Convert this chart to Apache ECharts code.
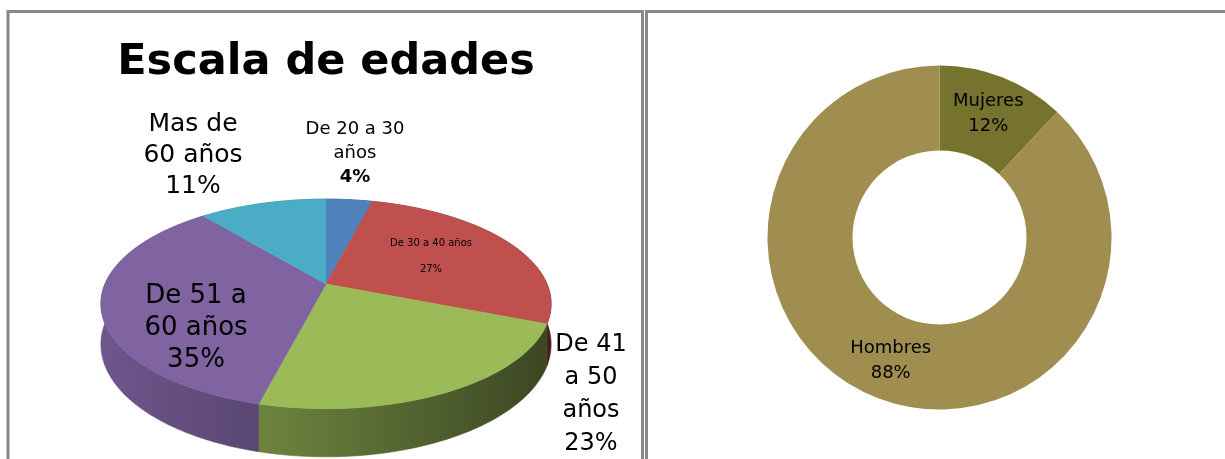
<!DOCTYPE html>
<html><head><meta charset="utf-8">
<script src="https://cdn.jsdelivr.net/npm/echarts@6/dist/echarts.min.js"></script>
<style>html,body{margin:0;padding:0;background:#fff}#c{width:1225px;height:459px}</style>
</head><body><div id="c"></div>
<script>
// ---------------- data ----------------
const titleText = 'Escala de edades';
const ageCategories = ['De 20 a 30 años', 'De 30 a 40 años', 'De 41 a 50 años', 'De 51 a 60 años', 'Mas de 60 años'];
const ageValues = [4, 27, 23, 35, 11];
// label text as wrapped in the original
const ageLabelLines = [['De 20 a 30', 'años'], ['De 30 a 40 años'], ['De 41', 'a 50', 'años'], ['De 51 a', '60 años'], ['Mas de', '60 años']];
const genderCategories = ['Mujeres', 'Hombres'];
const genderValues = [12, 88];

// ---------------- layout / style ----------------
const FONT = 'DejaVu Sans';
const ageColors = ['#4F81BD', '#C0504D', '#9BBB59', '#8064A2', '#4BACC6'];
const genderColors = ['#76732E', '#A08D50'];
const PIE = { cx: 326, cy: 284, A: 221, B: 101, k: 0.19, H: 39 };
const ageLabelLayout = [
  { x: 355, y: 153, size: 18, lh: 24, boldPct: true },
  { x: 431, y: 256, size: 10, lh: 26, boldPct: false },
  { x: 591, y: 394, size: 24, lh: 33, boldPct: false },
  { x: 196, y: 328, size: 26, lh: 32, boldPct: false },
  { x: 193, y: 155, size: 25, lh: 31, boldPct: false }
];

function shade(hex, f) {
  const n = parseInt(hex.slice(1), 16);
  const r = Math.round(((n >> 16) & 255) * f), g = Math.round(((n >> 8) & 255) * f), b = Math.round((n & 255) * f);
  return 'rgb(' + r + ',' + g + ',' + b + ')';
}
function proj(theta, drop) {
  const u = Math.sin(theta), v = -Math.cos(theta);
  const d = 1 - PIE.k * v;
  return [PIE.cx + PIE.A * u / d, PIE.cy + (PIE.B * v + (drop || 0)) / d];
}
const total = ageValues.reduce((a, b) => a + b, 0);
const cum = [];
ageValues.reduce((acc, v, i) => { cum[i] = acc; return acc + v; }, 0);

function renderSlice(params, api) {
  const i = params.dataIndex;
  const val = api.value(1);
  const a1 = cum[i] / total * Math.PI * 2;
  const a2 = (cum[i] + val) / total * Math.PI * 2;
  const steps = Math.max(2, Math.ceil((a2 - a1) / (Math.PI / 180)));
  const top = [[PIE.cx, PIE.cy]];
  const arcTop = [], arcBot = [];
  for (let s = 0; s <= steps; s++) {
    const t = a1 + (a2 - a1) * s / steps;
    arcTop.push(proj(t, 0));
    arcBot.push(proj(t, PIE.H));
  }
  const topPts = top.concat(arcTop);
  const sidePts = arcTop.concat(arcBot.slice().reverse());
  const base = ageColors[i];
  const grad = new echarts.graphic.LinearGradient(PIE.cx - PIE.A, 0, PIE.cx + PIE.A, 0, [
    { offset: 0, color: shade(base, 0.86) },
    { offset: 0.45, color: shade(base, 0.66) },
    { offset: 1, color: shade(base, 0.38) }
  ], true);
  const L = ageLabelLayout[i];
  const lines = ageLabelLines[i].map(t => '{a|' + t + '}');
  lines.push((L.boldPct ? '{b|' : '{a|') + val + '%}');
  return {
    type: 'group',
    children: [
      { type: 'polygon', shape: { points: sidePts }, style: { fill: grad, stroke: grad, lineWidth: 0.6 }, z2: 1 },
      { type: 'polygon', shape: { points: topPts }, style: { fill: base, stroke: base, lineWidth: 0.6 }, z2: 10 },
      {
        type: 'text', x: L.x, y: L.y, z2: 20,
        style: {
          text: lines.join('\n'), align: 'center', verticalAlign: 'middle',
          rich: {
            a: { fontFamily: FONT, fontSize: L.size, lineHeight: L.lh, fill: '#000', align: 'center' },
            b: { fontFamily: FONT, fontSize: L.size, lineHeight: L.lh, fill: '#000', fontWeight: 'bold', align: 'center' }
          }
        }
      }
    ]
  };
}

const chart = echarts.init(document.getElementById('c'), null, { renderer: 'canvas' });
chart.setOption({
  animation: false,
  backgroundColor: '#fff',
  graphic: [
    { type: 'rect', shape: { x: 8, y: 11.5, width: 634.5, height: 520 }, style: { fill: 'none', stroke: '#888', lineWidth: 3 }, silent: true },
    { type: 'rect', shape: { x: 646.5, y: 11.5, width: 640, height: 520 }, style: { fill: 'none', stroke: '#888', lineWidth: 3 }, silent: true },
    { type: 'text', x: 326, y: 63, style: { text: titleText, fontFamily: FONT, fontSize: 43, fontWeight: 'bold', fill: '#000', align: 'center', verticalAlign: 'middle' }, silent: true }
  ],
  series: [
    {
      type: 'custom',
      coordinateSystem: 'none',
      renderItem: renderSlice,
      silent: true,
      data: ageValues.map((v, i) => ({ name: ageCategories[i], value: [i, v] }))
    },
    {
      type: 'pie',
      center: [939.5, 237.5],
      radius: [87, 172],
      startAngle: 90,
      clockwise: true,
      silent: true,
      avoidLabelOverlap: false,
      label: { show: true, position: 'inside', formatter: '{b}\n{c}%', color: '#000', fontFamily: FONT, fontSize: 18, lineHeight: 25 },
      labelLine: { show: false },
      itemStyle: { borderWidth: 0 },
      emphasis: { disabled: true },
      data: genderValues.map((v, i) => ({ name: genderCategories[i], value: v, itemStyle: { color: genderColors[i] } }))
    }
  ]
});
</script>
</body></html>
